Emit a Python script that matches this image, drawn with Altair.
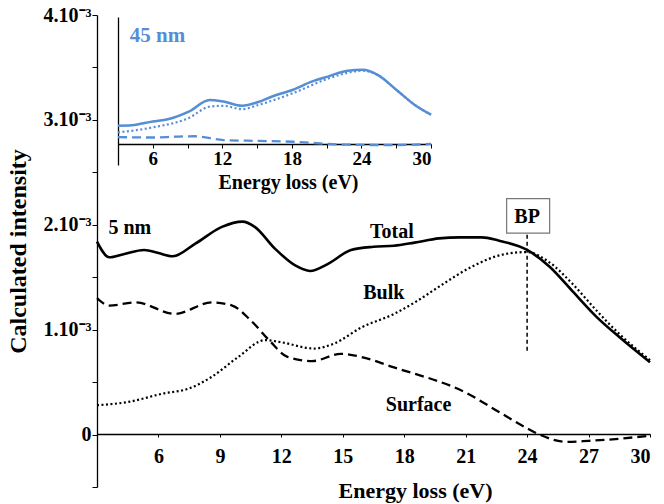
import altair as alt
import pandas as pd

# ---------- main panel (5 nm), intensity in units of 1e-3 ----------
total_e = [3.0, 3.6, 4.3, 5.3, 6.0, 6.7, 7.8, 9.1, 10.1, 10.7, 11.7, 12.7, 13.4, 14.3, 15.4,
           16.5, 17.5, 18.5, 19.7, 20.7, 21.8, 22.6, 24.0, 25.1, 26.2, 27.4, 28.5, 30.0]
total_v = [1.84, 1.69, 1.72, 1.76, 1.73, 1.70, 1.82, 1.98, 2.03, 1.98, 1.77, 1.61, 1.56, 1.63, 1.76,
           1.79, 1.80, 1.83, 1.87, 1.88, 1.88, 1.85, 1.76, 1.60, 1.37, 1.12, 0.93, 0.69]

bulk_e = [3.0, 4.5, 6.2, 7.5, 8.6, 9.9, 11.2, 12.0, 13.6, 14.6, 15.9, 17.5, 18.6, 19.7,
          21.3, 22.9, 24.0, 25.1, 26.2, 27.4, 28.5, 30.0]
bulk_v = [0.28, 0.31, 0.39, 0.44, 0.55, 0.74, 0.90, 0.88, 0.82, 0.87, 1.02, 1.15, 1.27, 1.41,
          1.60, 1.72, 1.74, 1.64, 1.44, 1.18, 0.96, 0.71]

surf_e = [3.0, 3.6, 4.9, 6.8, 8.6, 9.6, 10.5, 11.4, 12.3, 13.5, 14.9, 15.9, 17.5, 18.0,
          21.0, 22.5, 24.0, 24.6, 26.0, 27.0, 28.5, 30.0]
surf_v = [1.30, 1.23, 1.26, 1.15, 1.26, 1.23, 1.09, 0.90, 0.74, 0.70, 0.77, 0.74, 0.64, 0.61,
          0.40, 0.23, 0.06, 0.0, -0.07, -0.06, -0.04, -0.01]

ann_text = ["5 nm", "Total", "Bulk", "Surface"]
ann_e = [4.6, 17.4, 17.0, 18.7]
ann_v = [1.97, 1.93, 1.35, 0.28]

bp_text = ["BP"]
bp_e = [24.0]
bp_box_e = [23.0, 25.1]
bp_box_v = [2.25, 1.92]
bp_line_v = [0.80, 1.92]

# ---------- inset panel (45 nm) ----------
in_total_e = [3.0, 4.2, 6.0, 7.3, 9.1, 10.9, 12.1, 13.7, 15.1, 16.3, 18.1, 19.7, 21.1, 22.8,
              24.1, 25.4, 27.0, 28.6, 30.0]
in_total_v = [0.43, 0.44, 0.53, 0.58, 0.76, 1.04, 1.00, 0.90, 0.99, 1.12, 1.28, 1.47, 1.59, 1.73,
              1.75, 1.63, 1.28, 0.92, 0.69]
in_bulk_e = [3.0, 6.0, 9.1, 10.9, 12.1, 13.7, 15.1, 18.1, 21.1, 22.8, 24.1, 25.4, 27.0, 28.6, 30.0]
in_bulk_v = [0.27, 0.39, 0.61, 0.88, 0.90, 0.82, 0.92, 1.20, 1.54, 1.68, 1.73, 1.63, 1.28, 0.92, 0.69]
in_surf_e = [3.0, 6.0, 8.0, 9.6, 12.1, 15.1, 18.1, 21.1, 22.8, 27.0, 30.0]
in_surf_v = [0.16, 0.15, 0.17, 0.18, 0.09, 0.07, 0.05, 0.0, -0.02, -0.03, 0.0]
inset_label = ["45 nm"]
inset_label_e = [6.4]
inset_label_v = [2.55]

FONT = "Liberation Serif"
BLUE = "#558ED5"

main_x_ticks = [6, 9, 12, 15, 18, 21, 24, 27, 30]
main_y_ticks = [-0.5, 0, 0.5, 1, 1.5, 2, 2.5, 3, 3.5, 4]
inset_x_ticks = [6, 9, 12, 15, 18, 21, 24, 27, 30]


def df(e, v):
    return pd.DataFrame({"e": e, "v": v})


# ---- main scales / axes ----
mx_scale = alt.Scale(domain=[3, 30], nice=False, zero=False)
my_scale = alt.Scale(domain=[-0.5, 4], nice=False, zero=False)
mx_axis = alt.Axis(values=main_x_ticks, orient="bottom", offset=-53, grid=False,
                   tickSize=3, tickColor="black", domainColor="black", domainWidth=1.3,
                   labelFont=FONT, labelFontSize=20, labelFontWeight="bold", labelColor="black",
                   labelPadding=9,
                   title="Energy loss (eV)", titleFont=FONT, titleFontSize=22,
                   titleFontWeight="bold", titleColor="black",
                   titleX=318, titleY=56, titleBaseline="middle", titleAlign="center")
my_axis = alt.Axis(values=main_y_ticks, orient="left", grid=False,
                   tickSize=5, tickColor="black", domainColor="black", domainWidth=1.3,
                   labelExpr="datum.value == 0 ? '0' : (datum.value % 1 == 0 ? datum.value + '.10⁻³' : '')",
                   labelFont=FONT, labelFontSize=20, labelFontWeight="bold", labelColor="black",
                   labelPadding=1,
                   title="Calculated intensity", titleFont=FONT, titleFontSize=24,
                   titleFontWeight="bold", titleColor="black",
                   titleX=-79, titleBaseline="middle")


def main_enc(chart):
    return chart.encode(
        x=alt.X("e:Q", scale=mx_scale, axis=mx_axis),
        y=alt.Y("v:Q", scale=my_scale, axis=my_axis),
    )


m_total = main_enc(alt.Chart(df(total_e, total_v)).mark_line(
    color="black", strokeWidth=2.6, interpolate="monotone"))
m_bulk = main_enc(alt.Chart(df(bulk_e, bulk_v)).mark_line(
    color="black", strokeWidth=2.2, strokeDash=[2, 2.5], interpolate="monotone"))
m_surf = main_enc(alt.Chart(df(surf_e, surf_v)).mark_line(
    color="black", strokeWidth=2.3, strokeDash=[9, 5], interpolate="monotone"))

bp_line = alt.Chart(pd.DataFrame({"e": bp_e, "v": [bp_line_v[0]], "v2": [bp_line_v[1]]})).mark_rule(
    color="black", strokeWidth=1.5, strokeDash=[4, 3]).encode(
    x=alt.X("e:Q", scale=mx_scale, axis=mx_axis),
    y=alt.Y("v:Q", scale=my_scale, axis=my_axis),
    y2="v2:Q")

bp_box = alt.Chart(pd.DataFrame({"e": [bp_box_e[0]], "e2": [bp_box_e[1]],
                                 "v": [bp_box_v[0]], "v2": [bp_box_v[1]]})).mark_rect(
    fill="white", stroke="#777777", strokeWidth=1.2).encode(
    x=alt.X("e:Q", scale=mx_scale, axis=mx_axis), x2="e2:Q",
    y=alt.Y("v:Q", scale=my_scale, axis=my_axis), y2="v2:Q")

bp_label = main_enc(alt.Chart(pd.DataFrame({"e": bp_e, "v": [(bp_box_v[0] + bp_box_v[1]) / 2],
                                            "t": bp_text})).mark_text(
    font=FONT, fontSize=20, fontWeight="bold", color="black", align="center",
    baseline="middle", dy=1)).encode(text="t:N")

ann = main_enc(alt.Chart(pd.DataFrame({"e": ann_e, "v": ann_v, "t": ann_text})).mark_text(
    font=FONT, fontSize=20, fontWeight="bold", color="black", align="center",
    baseline="middle")).encode(text="t:N")

main = alt.layer(bp_line, m_surf, m_bulk, m_total, bp_box, bp_label, ann)

# ---- inset scales / axes (placed with pixel ranges inside the main view) ----
ix_scale = alt.Scale(domain=[3, 30], nice=False, zero=False, range=[21, 334])
iy_scale = alt.Scale(domain=[-0.5, 3.0], nice=False, zero=False, range=[150, 2])
ix_axis = alt.Axis(values=inset_x_ticks, orient="bottom", offset=-343, grid=False,
                   labelExpr="datum.value % 6 == 0 ? datum.label : ''",
                   tickSize=4, tickColor="black", domainColor="black", domainWidth=1.3,
                   labelFont=FONT, labelFontSize=19, labelFontWeight="bold", labelColor="black",
                   labelPadding=1,
                   title="Energy loss (eV)", titleFont=FONT, titleFontSize=20,
                   titleFontWeight="bold", titleColor="black",
                   titleX=191, titleY=38, titleBaseline="middle", titleAlign="center")
iy_axis = alt.Axis(orient="left", offset=-21, grid=False, labels=False, ticks=False,
                   title=None, domainColor="black", domainWidth=1.3)


def inset_enc(chart):
    return chart.encode(
        x=alt.X("e:Q", scale=ix_scale, axis=ix_axis),
        y=alt.Y("v:Q", scale=iy_scale, axis=iy_axis),
    )


i_total = inset_enc(alt.Chart(df(in_total_e, in_total_v)).mark_line(
    color=BLUE, strokeWidth=2.5, interpolate="monotone"))
i_bulk = inset_enc(alt.Chart(df(in_bulk_e, in_bulk_v)).mark_line(
    color=BLUE, strokeWidth=2.2, strokeDash=[2, 2.5], interpolate="monotone"))
i_surf = inset_enc(alt.Chart(df(in_surf_e, in_surf_v)).mark_line(
    color=BLUE, strokeWidth=2.3, strokeDash=[9, 5], interpolate="monotone"))
i_label = inset_enc(alt.Chart(pd.DataFrame({"e": inset_label_e, "v": inset_label_v,
                                            "t": inset_label})).mark_text(
    font=FONT, fontSize=21, fontWeight="bold", color=BLUE, align="center",
    baseline="middle")).encode(text="t:N")

inset = alt.layer(i_surf, i_bulk, i_total, i_label)

chart = alt.layer(main, inset).resolve_scale(x="independent", y="independent").resolve_axis(
    x="independent", y="independent"
).properties(
    width=553, height=472,
    autosize=alt.AutoSizeParams(type="none"),
    padding={"left": 97, "top": 15, "right": 14, "bottom": 17},
    background="white",
).configure_view(stroke=None)

chart.save("out.html", embed_options={"renderer": "svg", "actions": False})
